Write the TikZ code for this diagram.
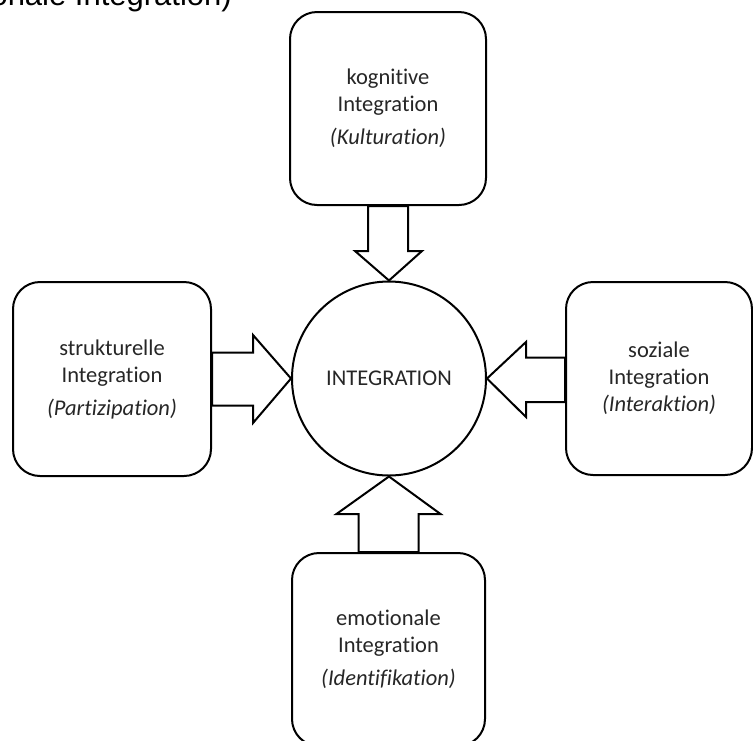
\documentclass[tikz,border=0pt]{standalone}
\usepackage{fontspec}
\setmainfont{Carlito}[Ligatures={NoCommon,NoRare,NoDiscretionary}]
\newfontfamily\arialfont{Liberation Sans}
\usetikzlibrary{calc}
\begin{document}
\begin{tikzpicture}[x=1pt,y=-1pt,
  box/.style={draw, line width=2pt, rounded corners=27pt, inner sep=0pt, align=center,
    font=\fontsize{22.5}{27}\selectfont, text=black!85},
  core/.style={draw, circle, line width=2pt, minimum size=194pt, inner sep=0pt,
    font=\fontsize{22.5}{27}\selectfont, text=black!85},
  fat/.style={draw, line width=2pt, fill=white, line join=miter}
]
\useasboundingbox (0,0) rectangle (753,740);
\clip (0,0) rectangle (753,740);

\node[anchor=base east, inner sep=0pt, font=\arialfont\fontsize{31}{36}\selectfont] (title) at (232,5) {onale Integration)};

\node[core] (C) at (389,378.5) {INTEGRATION};

\node[box, minimum width=196pt, minimum height=193pt] (K) at (388,108.5)
  {kognitive\\Integration\\[6pt]\textit{(Kulturation)}};
\node[box, minimum width=198pt, minimum height=194pt] (S) at (112,379)
  {strukturelle\\Integration\\[6pt]\textit{(Partizipation)}};
\node[box, minimum width=186pt, minimum height=193pt] (Z) at (659,378.5)
  {soziale\\Integration\\\textit{(Interaktion)}};
\node[box, minimum width=193pt, minimum height=193pt] (E) at (388.5,649.5)
  {emotionale\\Integration\\[6pt]\textit{(Identifikation)}};

% top arrow
\draw[fat] ($(K.south)+(-20,0)$) -- ++(0,45) -- ++(-13,0) -- (C.north)
  -- ($(K.south)+(34,45)$) -- ++(-14,0) -- ++(0,-45) -- cycle;
% left arrow
\draw[fat] ($(S.east)+(0,-26.5)$) -- ++(41,0) -- ++(0,-17.5) -- (C.west)
  -- ($(S.east)+(41,44)$) -- ++(0,-17.5) -- ++(-41,0) -- cycle;
% right arrow
\draw[fat] ($(Z.west)+(0,-21)$) -- ++(-39,0) -- ++(0,-15.5) -- (C.east)
  -- ($(Z.west)+(-39,38.5)$) -- ++(0,-15) -- ++(39,0) -- cycle;
% bottom arrow
\draw[fat] ($(E.north)+(-30,0)$) -- ++(0,-38) -- ++(-22,0) -- (C.south)
  -- ($(E.north)+(52,-38)$) -- ++(-22,0) -- ++(0,38) -- cycle;
\end{tikzpicture}
\end{document}
